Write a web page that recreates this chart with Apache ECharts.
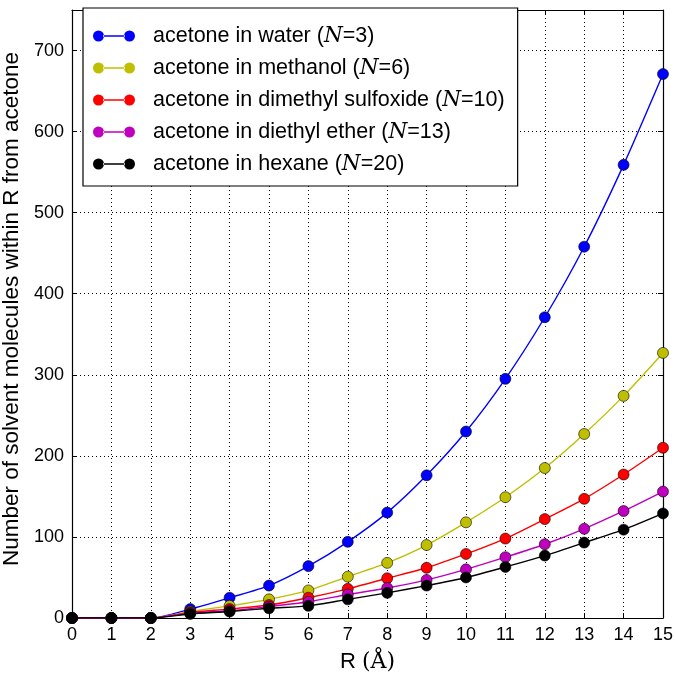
<!DOCTYPE html>
<html>
<head>
<meta charset="utf-8">
<script src="https://cdn.jsdelivr.net/npm/echarts@6/dist/echarts.min.js"></script>
<style>
  html, body { margin: 0; padding: 0; background: #fff; }
  #container { width: 675px; height: 673px; }
</style>
</head>
<body>
<div id="container"></div>
<script>
// R values (Å)
const radii = [0, 1, 2, 3, 4, 5, 6, 7, 8, 9, 10, 11, 12, 13, 14, 15]

// counts
const water = [0, 0, 0, 11, 25, 40, 64, 94, 130, 176, 230, 295, 371, 458, 559, 671]
const methanol = [0, 0, 0, 8, 15, 23, 34, 51, 68, 90, 118, 149, 185, 227, 274, 327]
const dmso = [0, 0, 0, 7, 11, 16, 25, 36, 49, 62, 79, 98, 122, 147, 177, 210]
const ether = [0, 0, 0, 6, 9, 14, 20, 29, 37, 47, 60, 75, 91, 110, 132, 156]
const hexane = [0, 0, 0, 5, 8, 12, 15, 23, 31, 40, 50, 63, 77, 93, 109, 129]

const seriesNames = [
  'acetone in water (N=3)',
  'acetone in methanol (N=6)',
  'acetone in dimethyl sulfoxide (N=10)',
  'acetone in diethyl ether (N=13)',
  'acetone in hexane (N=20)'
]
const seriesData = [water, methanol, dmso, ether, hexane]
const colors = ['#0000ff', '#bfbf00', '#ff0000', '#bf00bf', '#000000']

const font = 'Liberation Sans, Arial, sans-serif'

let chartDom = document.getElementById('container')
let myChart = echarts.init(chartDom, null, { renderer: 'canvas' })

// two circles joined by a line, like the matplotlib legend handle
const legendIcon = 'path://M0,5.5A5.5,5.5 0 1,0 11,5.5A5.5,5.5 0 1,0 0,5.5Z' +
  'M10,4.8L32,4.8L32,6.2L10,6.2Z' +
  'M31,5.5A5.5,5.5 0 1,0 42,5.5A5.5,5.5 0 1,0 31,5.5Z'

function axisCommon(show) {
  return {
    min: 0,
    axisLine: { show: true, onZero: false, lineStyle: { color: '#000', width: 1.2 } },
    axisTick: { show: true, inside: true, length: 5, lineStyle: { color: '#000' } },
    axisLabel: { show: show, color: '#000', fontSize: 18, fontFamily: font, showMaxLabel: true },
    splitLine: { show: show, lineStyle: { color: '#000', type: [1, 3], width: 1 } }
  }
}

let option = {
  color: colors,
  animation: false,
  grid: { left: 72, right: 12, top: 10, bottom: 55, containLabel: false, outerBoundsMode: 'none' },
  legend: {
    orient: 'vertical',
    left: 83,
    top: 8,
    backgroundColor: '#fff',
    borderColor: '#000',
    borderWidth: 1.2,
    padding: [17, 13, 11, 10],
    itemGap: 10,
    itemWidth: 42,
    itemHeight: 11,
    icon: legendIcon,
    itemStyle: { borderWidth: 0 },
    textStyle: {
      fontSize: 21.5,
      fontFamily: font,
      color: '#000',
      lineHeight: 22,
      padding: [0, 0, 0, 13],
      rich: {
        i: { fontSize: 21.5, fontStyle: 'italic', fontFamily: 'DejaVu Serif, serif', color: '#000', lineHeight: 22 }
      }
    },
    formatter: function(name) {
      return name.replace('(N=', '({i|N}=')
    },
    data: seriesNames
  },
  xAxis: [
    Object.assign(axisCommon(true), {
      type: 'value',
      max: 15,
      interval: 1,
      position: 'bottom',
      name: 'R {s|(Å)}',
      nameLocation: 'middle',
      nameGap: 33,
      nameTextStyle: {
        fontSize: 22, fontFamily: font, color: '#000',
        rich: { s: { fontSize: 22, fontFamily: 'DejaVu Serif, serif', color: '#000' } }
      }
    }),
    Object.assign(axisCommon(false), {
      type: 'value',
      max: 15,
      interval: 1,
      position: 'top'
    })
  ],
  yAxis: [
    Object.assign(axisCommon(true), {
      type: 'value',
      max: 750,
      interval: 100,
      position: 'left',
      name: 'Number of solvent molecules within R from acetone',
      nameLocation: 'middle',
      nameGap: 46,
      nameTextStyle: { fontSize: 22.5, fontFamily: font, color: '#000', padding: [0, 0, 0, 10] }
    }),
    Object.assign(axisCommon(false), {
      type: 'value',
      max: 750,
      interval: 100,
      position: 'right'
    })
  ],
  series: seriesNames.map(function(name, i) {
    return {
      name: name,
      type: 'line',
      xAxisIndex: 0,
      yAxisIndex: 0,
      data: radii.map(function(r, j) { return [r, seriesData[i][j]] }),
      smooth: 0.25,
      symbol: 'circle',
      symbolSize: 11,
      lineStyle: { width: 1.4, color: colors[i] },
      itemStyle: { color: colors[i], borderColor: '#000', borderWidth: 0.6 },
      emphasis: { disabled: true }
    }
  })
}
option.yAxis[0].axisLabel.showMaxLabel = false

option && myChart.setOption(option)
</script>
</body>
</html>
